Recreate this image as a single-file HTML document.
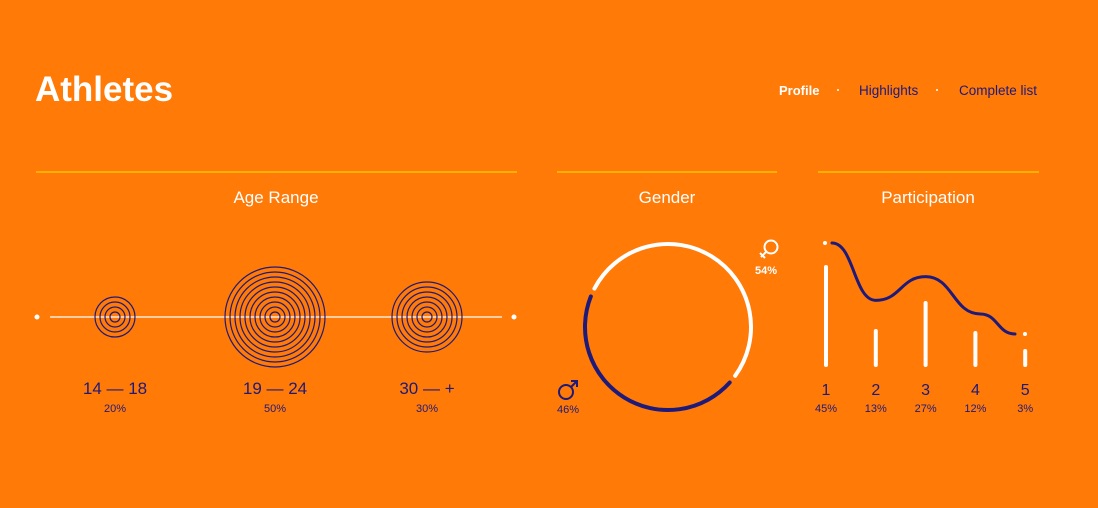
<!DOCTYPE html>
<html><head><meta charset="utf-8"><style>
body{margin:0;width:1098px;height:508px;background:#FF7A07;overflow:hidden;font-family:"Liberation Sans",sans-serif}
svg{position:absolute;left:0;top:0}
</style></head><body>
<svg id="c" width="1098" height="508">
<text x="35" y="101" font-size="35" font-weight="bold" fill="#fff">Athletes</text>
<text x="779" y="95" font-size="13" font-weight="bold" fill="#fff">Profile</text>
<circle cx="838" cy="90" r="1" fill="#fff"/>
<text x="859" y="95" font-size="13.5" fill="#1E1A7A">Highlights</text>
<circle cx="937" cy="90" r="1" fill="#fff"/>
<text x="959" y="95" font-size="13.5" fill="#1E1A7A">Complete list</text>
<line x1="36" y1="172" x2="517" y2="172" stroke="#FFB000" stroke-width="2"/>
<line x1="557" y1="172" x2="777" y2="172" stroke="#FFB000" stroke-width="2"/>
<line x1="818" y1="172" x2="1039" y2="172" stroke="#FFB000" stroke-width="2"/>
<text x="276" y="203" font-size="17" fill="#fff" text-anchor="middle">Age Range</text>
<text x="667" y="203" font-size="17" fill="#fff" text-anchor="middle">Gender</text>
<text x="928" y="203" font-size="17" fill="#fff" text-anchor="middle">Participation</text>
<circle cx="37" cy="317" r="2.5" fill="#fff"/>
<line x1="50" y1="317" x2="502" y2="317" stroke="#fff" stroke-width="1.3"/>
<circle cx="514" cy="317" r="2.5" fill="#fff"/>
<g fill="none" stroke="#1E1A7A" stroke-width="2">
<circle cx="566" cy="392" r="7"/><line x1="571" y1="387" x2="577" y2="381"/><polyline points="571,381 577,381 577,387"/>
</g>
<g fill="none" stroke="#fff" stroke-width="2">
<circle cx="771" cy="247" r="6.5"/><line x1="766" y1="252" x2="761" y2="257"/><line x1="760" y1="253" x2="765" y2="258"/>
</g>
<g id="age"></g><g id="gender"></g><g id="part"></g>
</svg>
<script>
const ageLabels=["14 — 18","19 — 24","30 — +"];
const ageValues=[20,50,30];
const genderLabels=["male","female"];
const genderValues=[46,54];
const partLabels=["1","2","3","4","5"];
const partValues=[45,13,27,12,3];
const curveValues=[100,37,63,22,0];
const NS="http://www.w3.org/2000/svg";
function mk(p,t,a){const e=document.createElementNS(NS,t);for(const k in a)e.setAttribute(k,a[k]);p.appendChild(e);return e;}
// Age range
const ageG=document.getElementById('age');
const ringCount=v=>Math.round(v/5)+(v>=30&&v<50?1:0);
ageValues.forEach((v,i)=>{
  const cx=[115,275,427][i];
  const n=ringCount(v);
  for(let r=1;r<=n;r++){
    const c=mk(ageG,'circle',{cx:cx,cy:317,r:r*5,fill:'none',stroke:'#1E1A7A','stroke-width':1.2});
    
    
  }
  const t=mk(ageG,'text',{x:cx,y:394,'font-size':17,fill:'#1E1A7A','text-anchor':'middle'});t.textContent=ageLabels[i];
  
  
  const p=mk(ageG,'text',{x:cx,y:412,'font-size':11,fill:'#1E1A7A','text-anchor':'middle'});p.textContent=v+'%';
  
  
});
// Gender
const gG=document.getElementById('gender');
const gcx=668,gcy=327,gr=83;
function pt(a){const r=a*Math.PI/180;return [gcx+gr*Math.cos(r),gcy+gr*Math.sin(r)];}
function arc(a0,a1,col,name){
  const p0=pt(a0),p1=pt(a1);const large=(a1-a0)>180?1:0;
  const e=mk(gG,'path',{d:`M${p0[0]} ${p0[1]} A${gr} ${gr} 0 ${large} 1 ${p1[0]} ${p1[1]}`,fill:'none',stroke:col,'stroke-width':4,'stroke-linecap':'round'});
  
  
}
const start=42,gap=6;
const maleSpan=genderValues[0]*3.6;
arc(start,start+maleSpan-gap,'#1E1A7A','male-arc');
arc(start+maleSpan,start+360-gap,'#fff','female-arc');
const mp=mk(gG,'text',{x:557,y:413,'font-size':11,fill:'#1E1A7A'});mp.textContent=genderValues[0]+'%';


const fp=mk(gG,'text',{x:755,y:274,'font-size':11,'font-weight':'bold',fill:'#fff'});fp.textContent=genderValues[1]+'%';


// Participation
const pG=document.getElementById('part');
const px=i=>826+i*49.8;
const base=365;
const barH=v=>8+v*2;
partValues.forEach((v,i)=>{
  const x=px(i);
  const b=mk(pG,'line',{x1:x,y1:base,x2:x,y2:base-barH(v),stroke:'#fff','stroke-width':4,'stroke-linecap':'round'});
  
  
  const t=mk(pG,'text',{x:x,y:395,'font-size':16,fill:'#1E1A7A','text-anchor':'middle'});t.textContent=partLabels[i];
  
  
  const p=mk(pG,'text',{x:x,y:412,'font-size':11,fill:'#1E1A7A','text-anchor':'middle'});p.textContent=v+'%';
  
  
});
const cy=v=>334-(v/100)*91;
const cxs=i=>(i===0?832:(i===4?1015:px(i)+(i===3?5:0)));
let d='';
curveValues.forEach((v,i)=>{
  const x=cxs(i),y=cy(v);
  if(i===0)d+=`M${x} ${y}`;else{const x0=cxs(i-1),y0=cy(curveValues[i-1]);const m=(x-x0)/2;d+=` C${x0+m} ${y0} ${x-m} ${y} ${x} ${y}`;}
});
const c=mk(pG,'path',{d:d,fill:'none',stroke:'#1E1A7A','stroke-width':3,'stroke-linecap':'round'});


const d1=mk(pG,'circle',{cx:825,cy:cy(curveValues[0]),r:2,fill:'#fff'});


const d2=mk(pG,'circle',{cx:1025,cy:cy(curveValues[4]),r:2,fill:'#fff'});


</script>
</body></html>
